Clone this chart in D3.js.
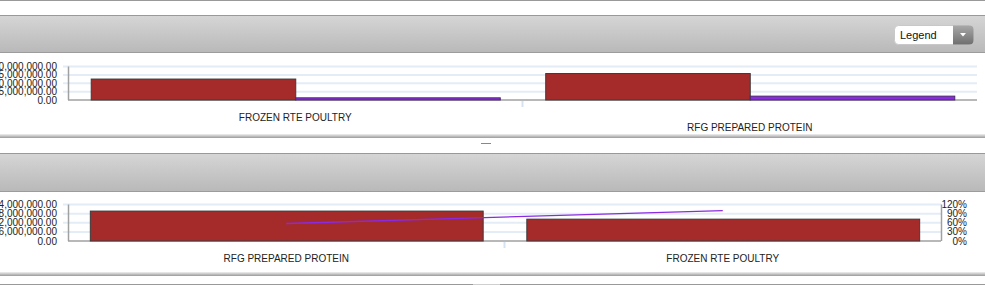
<!DOCTYPE html>
<html>
<head>
<meta charset="utf-8">
<script src="https://cdn.jsdelivr.net/npm/d3@7"></script>
<style>
  html, body { margin: 0; padding: 0; background: #fff; }
  svg { display: block; font-family: "Liberation Sans", Arial, sans-serif; }
</style>
</head>
<body>
<svg id="chart" width="985" height="285"></svg>
<script>
// data
const topCategories = ['FROZEN RTE POULTRY', 'RFG PREPARED PROTEIN'];
const topSeries = ['s1', 's2'];
const topRed = [12800000, 16100000];
const topPurple = [1600000, 2600000];
const topTicks = [0, 5000000, 10000000, 15000000, 20000000];

const bottomCategories = ['RFG PREPARED PROTEIN', 'FROZEN RTE POULTRY'];
const bottomValues = [20000000, 14700000];
const bottomPct = [57.6, 100];
const bottomTicks = [0, 6000000, 12000000, 18000000, 24000000];
const pctTicks = [0, 30, 60, 90, 120];

const RED = '#a52a2a';
const PURPLE = '#8a2be2';
const GRID = '#e4ecf6';
const AXIS = '#a0a0a0';
const FONT_SIZE = 10;

const $svg = d3.select('#chart');
const defs = $svg.append('defs');

const hdr = defs.append('linearGradient').attr('id', 'hdr').attr('x1', 0).attr('y1', 0).attr('x2', 0).attr('y2', 1);
hdr.append('stop').attr('offset', '0%').attr('stop-color', '#d6d6d6');
hdr.append('stop').attr('offset', '100%').attr('stop-color', '#b9b9b9');

const shadow = defs.append('linearGradient').attr('id', 'shadow').attr('x1', 0).attr('y1', 0).attr('x2', 0).attr('y2', 1);
shadow.append('stop').attr('offset', '0%').attr('stop-color', '#f0f0f0');
shadow.append('stop').attr('offset', '100%').attr('stop-color', '#9a9a9a');

const btn = defs.append('linearGradient').attr('id', 'btn').attr('x1', 0).attr('y1', 0).attr('x2', 0).attr('y2', 1);
btn.append('stop').attr('offset', '0%').attr('stop-color', '#a8a8a8');
btn.append('stop').attr('offset', '100%').attr('stop-color', '#6f6f6f');

const fmt = d3.format(',.2f');

// panel chrome: header bar and bottom shadow line
function panel(top, headerBottom, bottom) {
  const g = $svg.append('g');
  g.append('rect').attr('x', 0).attr('y', top).attr('width', 985).attr('height', headerBottom - top).attr('fill', 'url(#hdr)');
  g.append('line').attr('x1', 0).attr('x2', 985).attr('y1', top + 0.5).attr('y2', top + 0.5).attr('stroke', '#999');
  g.append('line').attr('x1', 0).attr('x2', 985).attr('y1', headerBottom + 0.5).attr('y2', headerBottom + 0.5).attr('stroke', '#9c9c9c');
  g.append('rect').attr('x', 0).attr('y', bottom - 2).attr('width', 985).attr('height', 4).attr('fill', 'url(#shadow)');
  return g;
}

function grid(g, ticks, y, x1, x2) {
  g.append('g').selectAll('line').data(ticks.slice(1)).join('line')
    .attr('x1', x1).attr('x2', x2)
    .attr('y1', d => y(d)).attr('y2', d => y(d))
    .attr('stroke', GRID).attr('stroke-width', 2);
}

function leftLabels(g, ticks, y, x) {
  g.append('g').selectAll('text').data(ticks).join('text')
    .attr('x', x).attr('y', d => y(d)).attr('dy', '0.35em')
    .attr('text-anchor', 'end').attr('font-size', FONT_SIZE).attr('fill', '#222')
    .text(d => fmt(d));
}

// top page edge
$svg.append('line').attr('x1', 0).attr('x2', 985).attr('y1', 0.5).attr('y2', 0.5).attr('stroke', '#999');

// ---------- TOP PANEL ----------
const pTop = panel(15, 52, 136);
const topPlot = { left: 68, right: 977, top: 66.5, bottom: 100 };

const x0 = d3.scaleBand().domain(topCategories).range([topPlot.left, topPlot.right]).paddingInner(0.1).paddingOuter(0.05);
const x1 = d3.scaleBand().domain(topSeries).range([0, x0.bandwidth()]);
const yTop = d3.scaleLinear().domain([0, 20000000]).range([topPlot.bottom, topPlot.top]);

grid(pTop, topTicks, yTop, 63, topPlot.right);
leftLabels(pTop, topTicks, yTop, 57);

pTop.append('line').attr('x1', topPlot.left + 0.5).attr('x2', topPlot.left + 0.5)
  .attr('y1', topPlot.top).attr('y2', topPlot.bottom).attr('stroke', AXIS).attr('stroke-width', 1.5);
pTop.append('line').attr('x1', topPlot.left).attr('x2', topPlot.right)
  .attr('y1', topPlot.bottom).attr('y2', topPlot.bottom).attr('stroke', AXIS).attr('stroke-width', 1.5);

const topRows = topCategories.map((c, i) => ({ cat: c, vals: [topRed[i], topPurple[i]] }));
const $groups = pTop.append('g').selectAll('g').data(topRows).join('g')
  .attr('transform', d => `translate(${x0(d.cat)},0)`);
$groups.selectAll('rect').data(d => d.vals.map((v, j) => ({ s: topSeries[j], v }))).join('rect')
  .attr('x', d => x1(d.s) + 0.5)
  .attr('y', d => yTop(d.v) + 0.5)
  .attr('width', x1.bandwidth())
  .attr('height', d => topPlot.bottom - yTop(d.v) - 0.5)
  .attr('fill', d => d.s === 's1' ? RED : PURPLE)
  .attr('stroke', d => d.s === 's1' ? '#3a3a3a' : '#4a2a6a').attr('stroke-width', 1);

// category separator tick
const sepTop = x0(topCategories[1]) - x0.step() * x0.paddingInner() / 2;
pTop.append('line').attr('x1', sepTop).attr('x2', sepTop)
  .attr('y1', topPlot.bottom + 1).attr('y2', topPlot.bottom + 7).attr('stroke', '#d6e2f2').attr('stroke-width', 2);

pTop.append('g').selectAll('text').data(topCategories).join('text')
  .attr('x', d => x0(d) + x0.bandwidth() / 2)
  .attr('y', (d, i) => i === 0 ? 117 : 127).attr('dy', '0.35em')
  .attr('text-anchor', 'middle').attr('font-size', FONT_SIZE).attr('fill', '#222')
  .text(d => d);

// legend dropdown
const $legend = $svg.append('g').attr('transform', 'translate(894,25)');
$legend.append('rect').attr('x', 0.5).attr('y', 0.5).attr('width', 79).attr('height', 19).attr('rx', 4)
  .attr('fill', '#fff').attr('stroke', '#c8c8c8');
$legend.append('path').attr('d', 'M59,0.5 H75.5 Q79.5,0.5 79.5,4.5 V15.5 Q79.5,19.5 75.5,19.5 H59 Z').attr('fill', 'url(#btn)');
$legend.append('path').attr('d', 'M66,8 L72,8 L69,11.5 Z').attr('fill', '#fff');
$legend.append('text').attr('x', 6).attr('y', 14).attr('font-size', 11).attr('fill', '#111').text('Legend');

// splitter dash
$svg.append('line').attr('x1', 481).attr('x2', 491).attr('y1', 143.5).attr('y2', 143.5).attr('stroke', '#888');

// ---------- BOTTOM PANEL ----------
const pBot = panel(153, 191, 274);
const botPlot = { left: 68, right: 941, top: 204.5, bottom: 241 };

const xb = d3.scaleBand().domain(bottomCategories).range([botPlot.left, botPlot.right]).paddingInner(0.1).paddingOuter(0.05);
const yBot = d3.scaleLinear().domain([0, 24000000]).range([botPlot.bottom, botPlot.top]);
const yPct = d3.scaleLinear().domain([0, 120]).range([botPlot.bottom, botPlot.top]);

grid(pBot, bottomTicks, yBot, 63, botPlot.right);
leftLabels(pBot, bottomTicks, yBot, 57);

pBot.append('g').selectAll('text').data(pctTicks).join('text')
  .attr('x', 967).attr('y', d => yPct(d)).attr('dy', '0.35em')
  .attr('text-anchor', 'end').attr('font-size', FONT_SIZE).attr('fill', '#222')
  .text(d => d + '%');

pBot.append('line').attr('x1', botPlot.left + 0.5).attr('x2', botPlot.left + 0.5)
  .attr('y1', botPlot.top).attr('y2', botPlot.bottom).attr('stroke', AXIS).attr('stroke-width', 1.5);
pBot.append('line').attr('x1', botPlot.right + 0.5).attr('x2', botPlot.right + 0.5)
  .attr('y1', botPlot.top).attr('y2', botPlot.bottom).attr('stroke', AXIS).attr('stroke-width', 1.5);
pBot.append('line').attr('x1', botPlot.left).attr('x2', botPlot.right)
  .attr('y1', botPlot.bottom).attr('y2', botPlot.bottom).attr('stroke', AXIS).attr('stroke-width', 1.5);

pBot.append('g').selectAll('rect').data(bottomCategories).join('rect')
  .attr('x', d => xb(d) + 0.5)
  .attr('y', (d, i) => yBot(bottomValues[i]) + 0.5)
  .attr('width', xb.bandwidth())
  .attr('height', (d, i) => botPlot.bottom - yBot(bottomValues[i]) - 0.5)
  .attr('fill', RED).attr('stroke', '#3a3a3a').attr('stroke-width', 1);

const sepX = xb(bottomCategories[1]) - xb.step() * xb.paddingInner() / 2;
pBot.append('line').attr('x1', sepX).attr('x2', sepX)
  .attr('y1', botPlot.bottom + 1).attr('y2', botPlot.bottom + 7).attr('stroke', '#d6e2f2').attr('stroke-width', 2);

const pareto = d3.line()
  .x((d, i) => xb(bottomCategories[i]) + xb.bandwidth() / 2)
  .y(d => yPct(d));
pBot.append('path').datum(bottomPct).attr('d', pareto)
  .attr('fill', 'none').attr('stroke', PURPLE).attr('stroke-width', 1.3);

pBot.append('g').selectAll('text').data(bottomCategories).join('text')
  .attr('x', d => xb(d) + xb.bandwidth() / 2)
  .attr('y', 258).attr('dy', '0.35em')
  .attr('text-anchor', 'middle').attr('font-size', FONT_SIZE).attr('fill', '#222')
  .text(d => d);

// next panel edge at the bottom
$svg.append('line').attr('x1', 0).attr('x2', 985).attr('y1', 284.5).attr('y2', 284.5).attr('stroke', '#999');
$svg.append('line').attr('x1', 473).attr('x2', 500).attr('y1', 284.5).attr('y2', 284.5).attr('stroke', '#cfcfcf');
</script>
</body>
</html>
